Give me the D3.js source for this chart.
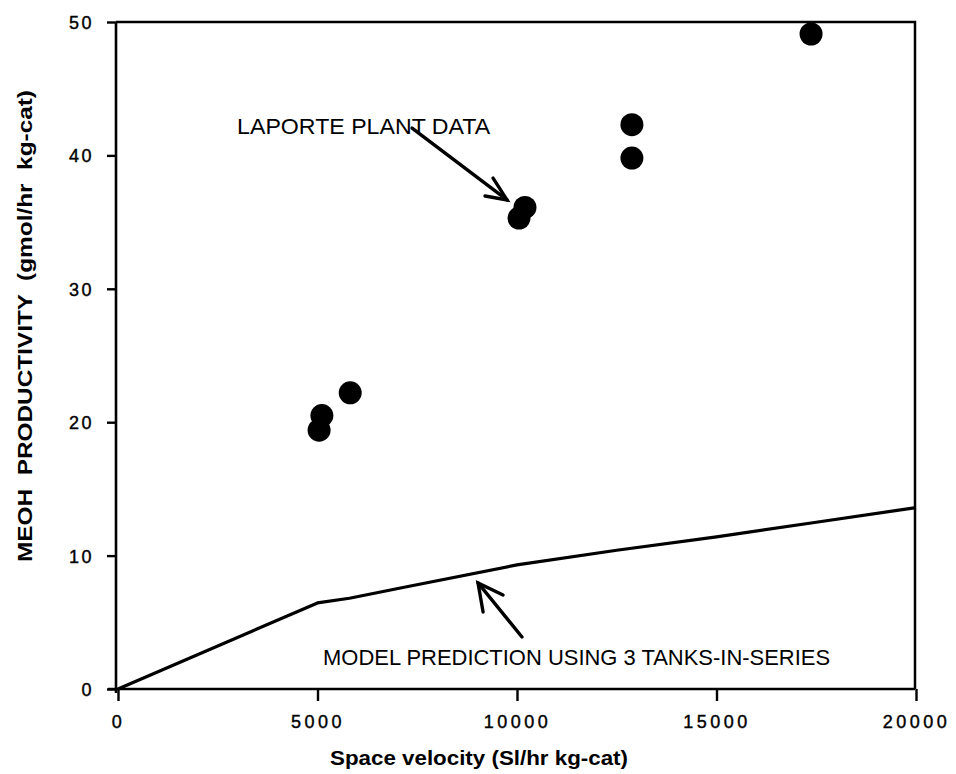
<!DOCTYPE html>
<html>
<head>
<meta charset="utf-8">
<script src="https://cdn.jsdelivr.net/npm/d3@7"></script>
<style>
  html, body { margin: 0; padding: 0; background: #fff; }
  svg { display: block; }
</style>
</head>
<body>
<svg id="chart" width="956" height="774"></svg>
<script>
// ---- Data ----
const plantX = [5040, 5110, 5820, 10050, 10200, 12880, 12880, 17370];
const plantY = [19.4, 20.5, 22.2, 35.3, 36.1, 42.3, 39.8, 49.1];

const modelX = [0, 5000, 5800, 7300, 10000, 12500, 15000, 17500, 20000];
const modelY = [0, 6.45, 6.8, 7.7, 9.3, 10.4, 11.4, 12.5, 13.6];

const xMajorTicks = [0, 5000, 10000, 15000, 20000];
const xMinorTicks = [1000, 2000, 3000, 4000, 6000, 7000, 8000, 9000, 11000, 12000, 13000, 14000, 16000, 17000, 18000, 19000];
const yMajorTicks = [0, 10, 20, 30, 40, 50];
const yMinorTicks = [5, 15, 25, 35, 45];

const xTitle = "Space velocity (Sl/hr kg-cat)";
const yTitleBold = "MEOH  PRODUCTIVITY  ";
const yTitleUnit = "(gmol/hr  kg-cat)";
const noteLaporte = "LAPORTE PLANT DATA";
const noteModel = "MODEL PREDICTION USING 3 TANKS-IN-SERIES";

// ---- Layout ----
const svg = d3.select("#chart");
const pLeft = 116, pRight = 915, pTop = 22, pBottom = 689;

const x = d3.scaleLinear().domain([0, 20000]).range([pLeft + 2, pRight + 1]);
const y = d3.scaleLinear().domain([0, 50]).range([pBottom, pTop]);

const font = "'Liberation Sans', Arial, Helvetica, sans-serif";

// Frame (top and right)
svg.append("path")
  .attr("d", `M${pLeft},${pTop}H${pRight}V${pBottom}`)
  .attr("fill", "none").attr("stroke", "#000").attr("stroke-width", 2.5);

// X axis
const gx = svg.append("g").attr("transform", `translate(0,${pBottom})`);
gx.call(d3.axisBottom(x).tickValues(xMinorTicks).tickSize(6).tickFormat(""));
gx.call(d3.axisBottom(x).tickValues(xMajorTicks).tickSize(12).tickFormat(d3.format("d")));
gx.selectAll("path.domain").attr("stroke-width", 2.6).attr("d", `M${pLeft - 8},0H${pRight}`);
gx.selectAll(".tick line").attr("stroke-width", 2.4);
gx.selectAll(".tick text")
  .attr("y", 39).attr("dy", 0)
  .attr("font-family", font).attr("font-size", 18)
  .attr("letter-spacing", "3.5px")
  .attr("stroke", "#000").attr("stroke-width", 0.4)
  .attr("text-anchor", "middle")
  .attr("fill", "#000");

// Y axis
const gy = svg.append("g").attr("transform", `translate(${pLeft},0)`);
gy.call(d3.axisLeft(y).tickValues(yMinorTicks).tickSize(4).tickFormat(""));
gy.call(d3.axisLeft(y).tickValues(yMajorTicks).tickSize(9).tickFormat(d3.format("d")));
gy.selectAll("path.domain").attr("stroke-width", 2.6).attr("d", `M0,${pBottom + 4}V${pTop}`);
gy.selectAll(".tick line").attr("stroke-width", 2.4);
gy.selectAll(".tick text")
  .attr("x", -22).attr("dy", "0.36em")
  .attr("font-family", font).attr("font-size", 18)
  .attr("letter-spacing", "2.5px")
  .attr("stroke", "#000").attr("stroke-width", 0.4)
  .attr("text-anchor", "end")
  .attr("fill", "#000");

// Axis titles
svg.append("text")
  .attr("x", 479).attr("y", 765)
  .attr("text-anchor", "middle")
  .attr("font-family", font).attr("font-weight", "bold").attr("font-size", 20)
  .attr("textLength", 298).attr("lengthAdjust", "spacingAndGlyphs")
  .text(xTitle);

const yt = svg.append("text")
  .attr("transform", "translate(32,326) rotate(-90)")
  .attr("text-anchor", "middle")
  .style("white-space", "pre")
  .attr("font-family", font).attr("font-size", 20)
  .attr("textLength", 472).attr("lengthAdjust", "spacingAndGlyphs");
yt.append("tspan").attr("font-weight", "bold").text(yTitleBold);
yt.append("tspan").attr("font-weight", "bold").text(yTitleUnit);

// Model line
const line = d3.line().x((d, i) => x(modelX[i])).y((d, i) => y(modelY[i]));
svg.append("path")
  .datum(modelY)
  .attr("d", line)
  .attr("fill", "none").attr("stroke", "#000").attr("stroke-width", 3.2)
  .attr("stroke-linejoin", "round");

// Plant data points
svg.append("g").selectAll("circle")
  .data(plantX.map((v, i) => [v, plantY[i]]))
  .join("circle")
  .attr("cx", d => x(d[0])).attr("cy", d => y(d[1]))
  .attr("r", 11.5).attr("fill", "#000");

// Annotations (data coordinates)
const laporteArrow = [[7370, 42.05], [9750, 36.66]];
const laporteHead = [[9200, 36.96], [9750, 36.66], [9400, 38.3]];
const modelArrow = [[10125, 3.9], [9023, 7.95]];
const modelHead = [[9150, 5.77], [9023, 7.95], [9650, 7.05]];
const pathGen = d3.line().x(d => x(d[0])).y(d => y(d[1]));

[laporteArrow, laporteHead, modelArrow, modelHead].forEach(p => {
  svg.append("path").attr("d", pathGen(p))
    .attr("fill", "none").attr("stroke", "#000").attr("stroke-width", 3.4)
    .attr("stroke-linecap", "round").attr("stroke-linejoin", "miter");
});

svg.append("text")
  .attr("x", x(2985)).attr("y", y(41.6))
  .attr("font-family", font).attr("font-size", 22)
  .attr("textLength", 253).attr("lengthAdjust", "spacingAndGlyphs")
  .text(noteLaporte);

svg.append("text")
  .attr("x", x(5140)).attr("y", y(1.8))
  .attr("font-family", font).attr("font-size", 22)
  .attr("textLength", 507).attr("lengthAdjust", "spacingAndGlyphs")
  .text(noteModel);
</script>
</body>
</html>
